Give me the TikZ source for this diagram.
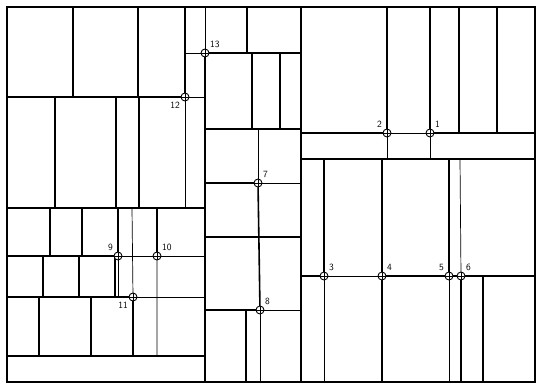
\documentclass[tikz,border=0pt]{standalone}
\usepackage{tikz}

\begin{document}
\begin{tikzpicture}[x=1pt, y=-1pt, label distance=1pt,
	wall/.style={line width=1.6pt, line cap=rect},
	part/.style={line width=0.7pt},
	junction/.style={draw, circle, fill=white, line width=0.9pt, inner sep=0pt, minimum size=8pt,
		path picture={\draw[line width=0.6pt] (path picture bounding box.north) -- (path picture bounding box.south) (path picture bounding box.west) -- (path picture bounding box.east);}},
	num/.style={font=\sffamily\fontsize{9.5}{10}\selectfont, inner sep=1pt}]
	\useasboundingbox (0,0) rectangle (537,384);
	
	% cut points
	\coordinate (p1) at (430,133);
	\coordinate (p2) at (387,133);
	\coordinate (p3) at (324,276);
	\coordinate (p4) at (382,276);
	\coordinate (p5) at (449,276);
	\coordinate (p6) at (461,276);
	\coordinate (p7) at (258,183);
	\coordinate (p8) at (260,310);
	\coordinate (p9) at (118,256);
	\coordinate (p10) at (157,256);
	\coordinate (p11) at (133,297);
	\coordinate (p12) at (185,97);
	\coordinate (p13) at (205,53);
	
	% outline
	\draw[wall] (7,7) rectangle (535,382);
	\draw[part] (205,7) -- (p13);
	\draw[wall] (p13) -- (205,382);
	\draw[wall] (301,7) -- (301,382);
	
	% left block
	\draw[wall] (73,7) -- (73,97) (138,7) -- (138,97) (p12) -- (185,7);
	\draw[wall] (7,97) -- (p12);
	\draw[part] (p12) -- (205,97) (p12) -- (185,208) (185,53) -- (p13);
	\draw[wall] (55,97) -- (55,208) (116,97) -- (116,208) (139,97) -- (139,208);
	\draw[wall] (7,208) -- (205,208);
	\draw[wall] (50,208) -- (50,256) (82,208) -- (82,256) (118,208) -- (p9) (157,208) -- (p10);
	\draw[part] (132,208) -- (p11) (p10) -- (157,356);
	\draw[wall] (7,256) -- (p9);
	\draw[part] (p9) -- (p10) -- (205,256);
	\draw[wall] (43,256) -- (43,297) (79,256) -- (79,297) (115,256) -- (115,297);
	\draw[part] (p9) -- (118,297);
	\draw[wall] (7,297) -- (p11) -- (133,356);
	\draw[part] (p11) -- (205,297);
	\draw[wall] (39,297) -- (39,356) (91,297) -- (91,356);
	\draw[wall] (7,356) -- (205,356);
	
	% middle block
	\draw[wall] (247,7) -- (247,53) (p13) -- (301,53);
	\draw[wall] (252,53) -- (252,129) (280,53) -- (280,129);
	\draw[wall] (205,129) -- (301,129);
	\draw[part] (258,129) -- (p7) -- (301,183);
	\draw[wall] (205,183) -- (p7) -- (p8);
	\draw[wall] (205,237) -- (301,237);
	\draw[wall] (205,310) -- (p8);
	\draw[part] (p8) -- (301,310) (p8) -- (260,382);
	\draw[wall] (246,310) -- (246,382);
	
	% right block
	\draw[wall] (p2) -- (387,7) (p1) -- (430,7) (459,7) -- (459,133) (497,7) -- (497,133);
	\draw[wall] (301,133) -- (p2) (p1) -- (535,133);
	\draw[part] (p2) -- (p1) (p2) -- (387,159) (p1) -- (430,159);
	\draw[wall] (301,159) -- (535,159);
	\draw[wall] (324,159) -- (p3) (382,159) -- (p4) (449,159) -- (p5);
	\draw[part] (460,159) -- (p6);
	\draw[wall] (301,276) -- (p3) (p4) -- (p5) -- (p6) -- (535,276);
	\draw[part] (p3) -- (p4) (p3) -- (324,382) (p5) -- (449,382);
	\draw[wall] (p4) -- (382,382) (p6) -- (461,382) (483,276) -- (483,382);
	
	% numbered cuts
	\node[junction, label={[num]above right:1}] (n1) at (p1) {};
	\node[junction, label={[num]above left:2}] (n2) at (p2) {};
	\node[junction, label={[num]above right:3}] (n3) at (p3) {};
	\node[junction, label={[num]above right:4}] (n4) at (p4) {};
	\node[junction, label={[num]above left:5}] (n5) at (p5) {};
	\node[junction, label={[num]above right:6}] (n6) at (p6) {};
	\node[junction, label={[num]above right:7}] (n7) at (p7) {};
	\node[junction, label={[num]above right:8}] (n8) at (p8) {};
	\node[junction, label={[num]above left:9}] (n9) at (p9) {};
	\node[junction, label={[num]above right:10}] (n10) at (p10) {};
	\node[junction, label={[num]below left:11}] (n11) at (p11) {};
	\node[junction, label={[num]below left:12}] (n12) at (p12) {};
	\node[junction, label={[num]above right:13}] (n13) at (p13) {};
	
\end{tikzpicture}
\end{document}
